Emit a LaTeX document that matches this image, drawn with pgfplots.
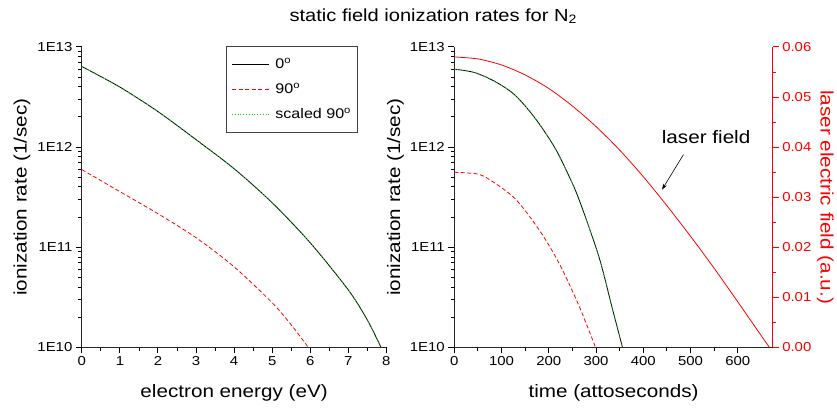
\documentclass[border=0pt]{standalone}
\usepackage{fontspec}
\setmainfont{Liberation Sans}[FakeStretch=1.15]
\usepackage{pgfplots}
\pgfplotsset{compat=1.18}
\usetikzlibrary{arrows.meta}

\definecolor{lgreen}{RGB}{0,215,0}

\pgfplotsset{
  origin/.style={
    scale only axis, height=301pt,
    axis lines*=left, xtick pos=bottom, ytick pos=left,
    axis line style={line width=1.2pt, black!85},
    major tick style={draw=black, line width=1pt},
    minor tick style={draw=black, line width=0.9pt},
    major tick length=6pt, minor tick length=3.5pt,
    tick align=outside,
    tick label style={font=\fontsize{13}{15}\selectfont},
    label style={font=\fontsize{18}{21}\selectfont},
    xlabel style={at={(axis description cs:0.5,-0.15)}, anchor=center},
  },
}

\begin{document}
\begin{tikzpicture}
% page frame, 837 x 412
\path (0pt,0pt) rectangle (837pt,-412pt);

% left panel: rate against electron energy
\begin{axis}[origin, ymode=log, ymin=1e10, ymax=1e13,
  ytick={1e10,1e11,1e12,1e13}, yticklabels={1E10,1E11,1E12,1E13},
  at={(82pt,-348pt)}, anchor=south west, width=305pt,
  xmin=0, xmax=8, xtick={0,...,8}, minor x tick num=1,
  /pgf/number format/assume math mode=true,
  xlabel={electron energy (eV)}, ylabel={ionization rate (1/sec)},
  ylabel style={at={(axis description cs:-0.197,0.5)}, anchor=center},
  legend cell align=left,
  legend style={at={(axis description cs:0.474,1.004)}, anchor=north west,
    draw=black!75, line width=1pt, font=\fontsize{14}{16}\selectfont,
    row sep=9pt, inner xsep=5pt, inner ysep=10pt,
    /tikz/every odd column/.style={column sep=4pt}},
  legend image code/.code={\draw[#1] (0pt,0pt) -- (37pt,0pt);},
]
\addplot[draw=black, line width=0.8pt, smooth, forget plot] coordinates {
  (0,6.37e12) (1,3.97e12) (2,2.26e12) (3,1.186e12) (4,6.08e11) (5,2.78e11)
  (6,1.107e11) (7,3.75e10) (7.5,1.88e10) (7.86,1.0e10)};
\addplot[draw=red, line width=0.8pt, dash pattern=on 4pt off 2.5pt, smooth, forget plot] coordinates {
  (0,5.96e11) (1,3.59e11) (2,2.16e11) (3,1.245e11) (4,6.38e10) (5,2.79e10)
  (5.5,1.68e10) (5.95,1.0e10)};
\addplot[draw=lgreen, line width=0.8pt, dotted, smooth, forget plot] coordinates {
  (0,6.37e12) (1,3.97e12) (2,2.26e12) (3,1.186e12) (4,6.08e11) (5,2.78e11)
  (6,1.107e11) (7,3.75e10) (7.5,1.88e10) (7.86,1.0e10)};
\addlegendimage{draw=black, line width=0.8pt}
\addlegendentry{0\textsuperscript{o}}
\addlegendimage{draw=red, color=red, line width=0.8pt, dash pattern=on 4pt off 2.5pt}
\addlegendentry{90\textsuperscript{o}}
\addlegendimage{draw=lgreen, line width=0.8pt, dotted}
\addlegendentry{scaled 90\textsuperscript{o}}
\end{axis}

% right panel: rate against time
\begin{axis}[origin, ymode=log, ymin=1e10, ymax=1e13,
  ytick={1e10,1e11,1e12,1e13}, yticklabels={1E10,1E11,1E12,1E13},
  at={(455pt,-348pt)}, anchor=south west, width=319pt,
  xmin=0, xmax=674, xtick={0,100,...,600}, minor x tick num=1,
  /pgf/number format/assume math mode=true,
  xlabel={time (attoseconds)}, ylabel={ionization rate (1/sec)},
  ylabel style={at={(axis description cs:-0.185,0.5)}, anchor=center},
]
\addplot[draw=black, line width=0.8pt, smooth] coordinates {
  (0,6.0e12) (42,5.56e12) (84,4.57e12) (127,3.35e12) (169,2.0e12) (211,1.02e12)
  (239,5.6e11) (264,3.0e11) (306,8.07e10) (334,2.5e10) (356,1.0e10)};
\addplot[draw=lgreen, line width=0.8pt, dotted, smooth] coordinates {
  (0,6.0e12) (42,5.56e12) (84,4.57e12) (127,3.35e12) (169,2.0e12) (211,1.02e12)
  (239,5.6e11) (264,3.0e11) (306,8.07e10) (334,2.5e10) (356,1.0e10)};
\addplot[draw=red, line width=0.8pt, dash pattern=on 4pt off 2.5pt, smooth] coordinates {
  (0,5.6e11) (30,5.5e11) (63,5.1e11) (127,3.11e11) (180,1.48e11) (222,6.9e10)
  (264,2.6e10) (299,1.0e10)};
\end{axis}

% laser field on the right-hand scale
\begin{axis}[scale only axis, at={(455pt,-348pt)}, anchor=south west,
  width=319pt, height=301pt,
  axis x line=none, axis y line*=right, ytick pos=right,
  xmin=0, xmax=674, ymin=0, ymax=0.06,
  ytick={0,0.01,...,0.06}, minor y tick num=1, scaled y ticks=false,
  axis line style={line width=1.2pt, red},
  major tick style={draw=red, line width=1pt},
  minor tick style={draw=red, line width=0.9pt},
  major tick length=6pt, minor tick length=3.5pt,
  tick align=outside,
  yticklabel style={font=\fontsize{13}{15}\selectfont, text=red,
    /pgf/number format/fixed, /pgf/number format/fixed zerofill,
    /pgf/number format/precision=2},
  /pgf/number format/assume math mode=true,
  ylabel={laser electric field (a.u.)},
  ylabel style={font=\fontsize{18}{21}\selectfont, text=red, rotate=180,
    at={(axis description cs:1.165,0.5)}, anchor=center},
]
\addplot[draw=red, line width=0.8pt, smooth] coordinates {
  (0,0.0580) (50,0.0576) (100,0.0564) (150,0.0544) (200,0.0517) (250,0.0482)
  (300,0.0441) (350,0.0394) (400,0.0341) (450,0.0283) (500,0.0222)
  (550,0.0158) (600,0.0091) (650,0.0023) (667,0.0)};
\node[font=\fontsize{18}{21}\selectfont, anchor=center] at (axis cs:533,0.0421) {laser field};
\draw[-{Stealth[length=6pt,width=4pt]}, line width=0.6pt] (axis cs:485,0.0385) -- (axis cs:439.6,0.0315);
\end{axis}

\node[font=\fontsize{17.5}{20}\selectfont] at (434pt,-16pt) {static field ionization rates for N\textsubscript{2}};
\end{tikzpicture}
\end{document}
